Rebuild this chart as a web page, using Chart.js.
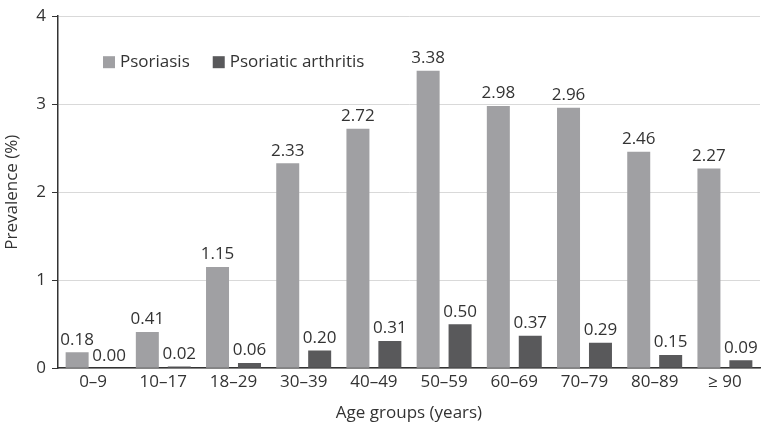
<!DOCTYPE html>
<html>
<head>
<meta charset="utf-8">
<script src="https://cdn.jsdelivr.net/npm/chart.js@4"></script>
<style>
  html, body { margin: 0; padding: 0; background: #fff; }
  #wrap { width: 764px; height: 429px; }
</style>
</head>
<body>
<div id="wrap"><canvas id="prevChart"></canvas></div>
<script>
const ageGroups = ['0–9', '10–17', '18–29', '30–39', '40–49', '50–59', '60–69', '70–79', '80–89', '≥ 90'];
const psoriasis = [0.18, 0.41, 1.15, 2.33, 2.72, 3.38, 2.98, 2.96, 2.46, 2.27];
const arthritis = [0.00, 0.02, 0.06, 0.20, 0.31, 0.50, 0.37, 0.29, 0.15, 0.09];
const yTicks = [0, 1, 2, 3, 4];

const textColor = '#333333';
const fontName = '"Open Sans", "DejaVu Sans", sans-serif';

// value labels on top of each bar
const valueLabels = {
  id: 'valueLabels',
  afterDatasetsDraw(chart) {
    const ctx = chart.ctx;
    ctx.save();
    ctx.font = '17px ' + fontName;
    ctx.fillStyle = textColor;
    ctx.textAlign = 'center';
    ctx.textBaseline = 'bottom';
    chart.data.datasets.forEach((ds, i) => {
      chart.getDatasetMeta(i).data.forEach((bar, j) => {
        ctx.fillText(ds.data[j].toFixed(2), bar.x, bar.y - 4);
      });
    });
    ctx.restore();
  }
};

// legend drawn inside the plot area, top left
const innerLegend = {
  id: 'innerLegend',
  afterDraw(chart) {
    const ctx = chart.ctx;
    const area = chart.chartArea;
    let x = area.left + 45;
    const y = area.top + 46;
    ctx.save();
    ctx.font = '17px ' + fontName;
    ctx.textBaseline = 'middle';
    chart.data.datasets.forEach(ds => {
      ctx.fillStyle = ds.backgroundColor;
      ctx.fillRect(x, y - 6, 12, 12);
      ctx.fillStyle = textColor;
      ctx.fillText(ds.label, x + 17, y);
      x += 17 + ctx.measureText(ds.label).width + 23;
    });
    ctx.restore();
  }
};

const ctx = document.getElementById('prevChart').getContext('2d');
new Chart(ctx, {
  type: 'bar',
  data: {
    labels: ageGroups,
    datasets: [
      { label: 'Psoriasis', data: psoriasis, backgroundColor: '#a0a0a3' },
      { label: 'Psoriatic arthritis', data: arthritis, backgroundColor: '#59595b' }
    ]
  },
  options: {
    responsive: true,
    maintainAspectRatio: false,
    animation: false,
    categoryPercentage: 0.91,
    barPercentage: 0.72,
    layout: {
      padding: { top: 6, right: 4, left: 0, bottom: 6 }
    },
    scales: {
      y: {
        min: 0,
        max: 4,
        afterBuildTicks(scale) {
          scale.ticks = yTicks.map(v => ({ value: v }));
        },
        afterFit(scale) {
          scale.width = 58;
        },
        ticks: {
          color: textColor,
          padding: 6,
          font: { family: fontName, size: 17 }
        },
        grid: {
          color: '#d9d9d9',
          tickColor: '#333333',
          tickLength: 6
        },
        border: { color: '#333333', width: 1.5 },
        title: {
          display: true,
          text: 'Prevalence (%)',
          color: textColor,
          padding: 2,
          font: { family: fontName, size: 17 }
        }
      },
      x: {
        ticks: {
          color: textColor,
          padding: 4,
          font: { family: fontName, size: 17 }
        },
        grid: { display: false, drawTicks: false },
        border: { color: '#333333', width: 1.5 },
        title: {
          display: true,
          text: 'Age groups (years)',
          color: textColor,
          padding: { top: 6, bottom: 0 },
          font: { family: fontName, size: 17 }
        }
      }
    },
    plugins: {
      legend: { display: false },
      tooltip: { enabled: false }
    }
  },
  plugins: [valueLabels, innerLegend]
});
</script>
</body>
</html>
